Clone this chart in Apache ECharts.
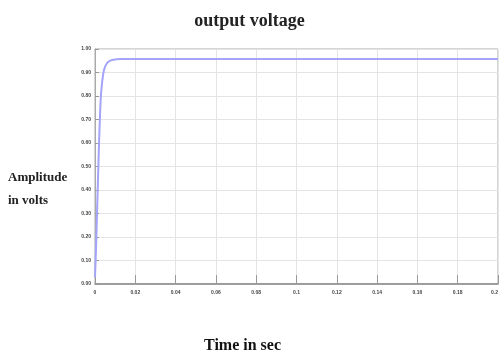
<!DOCTYPE html>
<html><head><meta charset="utf-8">
<style>html,body{margin:0;padding:0;background:#fff}#c{width:499px;height:356px}</style>
<script src="https://cdn.jsdelivr.net/npm/echarts@6/dist/echarts.min.js"></script>
</head><body><div id="c"></div>
<script>
var timeValues = [0, 0.0005, 0.001, 0.0015, 0.002, 0.0025, 0.003, 0.004, 0.005, 0.0065, 0.009, 0.013, 0.05, 0.1, 0.15, 0.2];
var voltageValues = [0.03, 0.15, 0.3, 0.45, 0.6, 0.72, 0.81, 0.89, 0.925, 0.945, 0.954, 0.957, 0.957, 0.957, 0.957, 0.957];
var xTickLabels = ['0', '0.02', '0.04', '0.06', '0.08', '0.1', '0.12', '0.14', '0.16', '0.18', '0.2'];
var yTickLabels = ['0.00', '0.10', '0.20', '0.30', '0.40', '0.50', '0.60', '0.70', '0.80', '0.90', '1.00'];

var chart = echarts.init(document.getElementById('c'));
chart.setOption({
  animation: false,
  grid: {left: 95, right: 1, top: 49, bottom: 72, show: true, borderColor: '#aaa', borderWidth: 1, outerBoundsMode: 'none', containLabel: false},
  xAxis: {
    type: 'value', min: 0, max: 0.2, interval: 0.02,
    axisLine: {lineStyle: {color: '#888', width: 1.5}},
    axisTick: {inside: true, length: 9, lineStyle: {color: '#999'}},
    axisLabel: {fontSize: 5, color: '#444', margin: 6, fontWeight: 'bold', alignMaxLabel: 'right', hideOverlap: false,
      formatter: function (v) { return xTickLabels[Math.round(v / 0.02)]; }},
    splitLine: {show: true, lineStyle: {color: '#e4e4e4'}}
  },
  yAxis: {
    type: 'value', min: 0, max: 1, interval: 0.1,
    axisLine: {show: true, lineStyle: {color: '#aaa'}},
    axisTick: {show: true, inside: true, length: 4, lineStyle: {color: '#999'}},
    axisLabel: {fontSize: 5, color: '#444', margin: 4, fontWeight: 'bold',
      formatter: function (v) { return yTickLabels[Math.round(v * 10)]; }},
    splitLine: {show: true, lineStyle: {color: '#e4e4e4'}}
  },
  series: [{
    type: 'line', showSymbol: false, smooth: 0.3,
    data: timeValues.map(function (t, i) { return [t, voltageValues[i]]; }),
    lineStyle: {color: '#a4a4fa', width: 2}
  }],
  graphic: [
    {type: 'text', left: 'center', top: 12, style: {text: 'output voltage', font: 'bold 18px "Liberation Serif"', fill: '#222'}},
    {type: 'text', left: 8, top: 166, style: {text: 'Amplitude\nin volts', font: 'bold 13px "Liberation Serif"', lineHeight: 23, fill: '#222'}},
    {type: 'text', left: 204, top: 338, style: {text: 'Time in sec', font: 'bold 16px "Liberation Serif"', fill: '#111'}}
  ]
});
</script></body></html>
